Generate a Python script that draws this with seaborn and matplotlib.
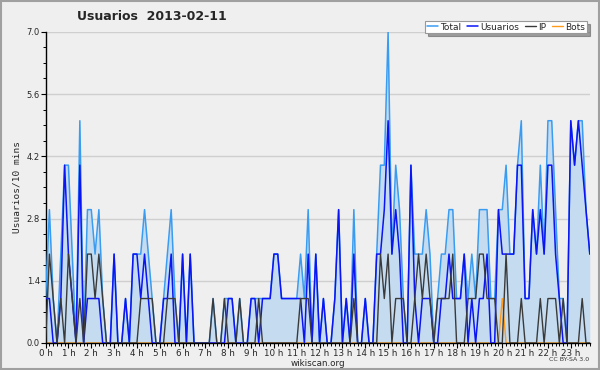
import numpy as np
import pandas as pd
import matplotlib
matplotlib.use("Agg")
import matplotlib.pyplot as plt
import seaborn as sns

# values per 10-minute slot (144 slots over the day)
usuarios = [1,1,0,0,1,4,2,1,0,4, 0,1,1,1,1,0,0,0,2,0,
            0,1,0,2,2,1,2,1,0,0, 0,1,1,2,0,0,2,0,2,0,
            0,0,0,0,0,0,0,0,1,1, 0,0,0,0,1,1,0,1,1,1,
            2,2,1,1,1,1,1,1,0,2, 0,2,0,1,0,0,1,3,0,1,
            0,2,0,0,1,0,0,2,2,3, 5,2,3,2,0,0,4,1,0,1,
            1,1,0,0,1,1,2,1,1,1, 2,0,1,0,1,1,2,0,0,3,
            2,2,2,2,4,4,1,1,3,2, 3,2,4,4,2,1,0,0,5,4,
            5,4,3,2]
ip = [0,2,1,0,1,0,2,1,0,1, 0,2,2,1,2,1,0,0,0,0,
      0,0,0,0,0,1,1,1,1,0, 0,0,1,1,1,0,0,0,0,0,
      0,0,0,0,1,0,0,1,0,0, 0,1,0,0,0,0,1,0,0,0,
      0,0,0,0,0,0,0,1,1,1, 0,0,0,0,0,0,0,0,0,0,
      0,1,0,0,0,0,0,0,2,1, 2,0,1,1,1,0,0,1,2,1,
      2,1,0,1,1,1,1,2,0,0, 0,1,1,1,2,2,1,1,1,0,
      0,2,0,0,0,1,0,0,0,0, 1,0,1,1,1,0,1,0,0,0,
      0,1,0,0]
bots = [0]*120 + [1] + [0]*23
total = [1,3,1,0,2,4,4,2,0,5, 0,3,3,2,3,1,0,0,2,0,
         0,1,0,2,2,2,3,2,1,0, 0,1,2,3,1,0,2,0,2,0,
         0,0,0,0,1,0,0,1,1,1, 0,1,0,0,1,1,1,1,1,1,
         2,2,1,1,1,1,1,2,1,3, 0,2,0,1,0,0,1,3,0,1,
         0,3,0,0,1,0,0,2,4,4, 7,2,4,3,1,0,4,2,2,2,
         3,2,0,1,2,2,3,3,1,1, 2,1,2,1,3,3,3,1,1,3,
         3,4,2,2,4,5,1,1,3,2, 4,2,5,5,3,1,1,0,5,4,
         5,5,3,2]
hours = [f"{h} h" for h in range(24)]

n = len(total)
xs = np.arange(n) / 6.0
df = pd.DataFrame({"x": xs, "Total": total, "Usuarios": usuarios, "IP": ip, "Bots": bots})

sns.set_theme(style="white")
plt.rcParams['font.family'] = ['DejaVu Sans']

bg = "#efeff0"
fig = plt.figure(figsize=(6.0, 3.7), dpi=100, facecolor=bg)
ax = fig.add_axes([0.076, 0.073, 0.907, 0.841])
ax.set_facecolor(bg)

ax.fill_between(df["x"], 0, df["Total"], color="#c5dcf0", zorder=1, linewidth=0)
sns.lineplot(data=df, x="x", y="Total", ax=ax, color="#3a9cf0", lw=1.1, label="Total", zorder=3)
sns.lineplot(data=df, x="x", y="Usuarios", ax=ax, color="#0a14f5", lw=1.1, label="Usuarios", zorder=4)
sns.lineplot(data=df, x="x", y="IP", ax=ax, color="#3a3a3a", lw=1.0, label="IP", zorder=5)
sns.lineplot(data=df, x="x", y="Bots", ax=ax, color="#ff9a1a", lw=1.0, label="Bots", zorder=2)

ax.set_xlim(0, xs[-1])
ax.set_ylim(0, 7.0)
yt = [0.0, 1.4, 2.8, 4.2, 5.6, 7.0]
ax.set_yticks(yt)
ax.set_yticklabels([f"{v:.1f}" for v in yt], fontsize=6)
ax.set_yticks(np.arange(0, 7.01, 0.35), minor=True)
for v in yt[1:]:
    ax.axhline(v, color="#cfcfcf", lw=1.0, zorder=0.5)
ax.set_xticks(np.arange(24))
ax.set_xticklabels(hours, fontsize=6.3)
ax.set_xticks(np.arange(0, xs[-1] + 0.01, 1/6), minor=True)
ax.tick_params(axis="both", which="major", length=3.5, width=0.8, color="black", pad=0.5, direction="out")
ax.tick_params(axis="both", which="minor", length=2.5, width=0.7, color="black")
ax.tick_params(axis="x", which="both", bottom=True)
ax.tick_params(axis="y", which="both", left=True)
ax.set_xlabel("wikiscan.org", fontsize=6.3, labelpad=1)
ax.set_ylabel("Usuarios/10 mins", fontsize=6.8, family="DejaVu Sans Mono", labelpad=4)
for s in ["top", "right"]:
    ax.spines[s].set_visible(False)
for s in ["left", "bottom"]:
    ax.spines[s].set_color("black")
    ax.spines[s].set_linewidth(1.0)

fig.text(0.128, 0.955, "Usuarios  2013-02-11", fontsize=9, fontweight="bold", ha="left", va="center")
fig.text(0.982, 0.022, "CC BY-SA 3.0", fontsize=4.5, ha="right", va="bottom", color="#333333")

leg = ax.legend(loc="upper right", bbox_to_anchor=(1.003, 1.05), ncol=4, fontsize=6.5,
                frameon=True, fancybox=False, shadow=True, handlelength=1.2,
                handletextpad=0.3, columnspacing=0.6, borderpad=0.2)
leg.get_frame().set_edgecolor("#999999")
leg.get_frame().set_facecolor("white")
leg.get_frame().set_linewidth(0.8)

# outer frame
fig.patches.append(matplotlib.patches.Rectangle((0.002, 0.003), 0.996, 0.994, transform=fig.transFigure,
                                                fill=False, edgecolor="#a0a0a0", lw=1.5))
fig.savefig("out.png", dpi=100, facecolor=bg)
